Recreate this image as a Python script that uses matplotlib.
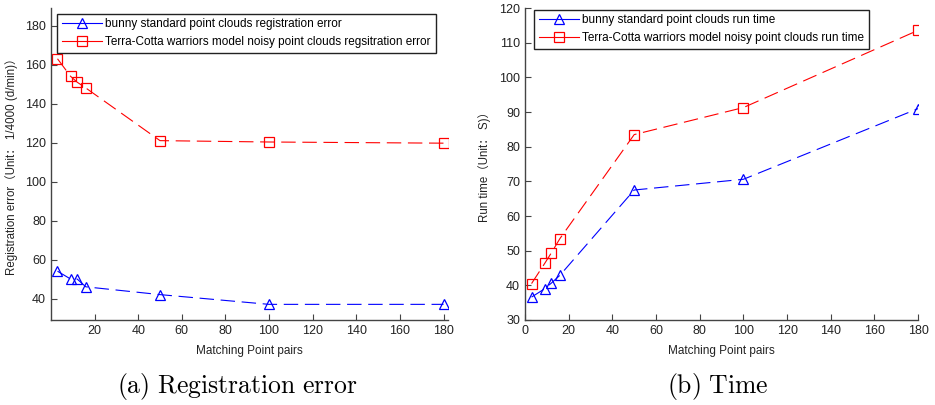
import matplotlib
matplotlib.use("Agg")
import matplotlib.pyplot as plt

plt.rcParams['font.family'] = ['Liberation Sans', 'Noto Sans CJK SC', 'DejaVu Sans']
plt.rcParams['mathtext.fontset'] = 'cm'

# Matching point pairs (x) shared by both panels
pairs = [3, 9, 12, 16, 50, 100, 180]

# Registration error (unit: 1/4000 d/min)
bunny_error = [54, 50, 50, 46, 42, 37, 37]
terra_error = [163, 154, 151, 148, 121, 120.3, 119.7]

# Run time (unit: s)
bunny_time = [36.6, 39.0, 40.6, 42.9, 67.5, 70.6, 91.0]
terra_time = [40.5, 46.3, 49.3, 53.5, 83.5, 91.3, 113.6]

left_labels = ["bunny standard point clouds registration error",
               "Terra-Cotta warriors model noisy point clouds regsitration error"]
right_labels = ["bunny standard point clouds run time",
                "Terra-Cotta warriors model noisy point clouds run time"]

dash = (0, (13, 6))
text_col = '#222222'


def style_axes(ax):
    ax.spines['top'].set_visible(False)
    ax.spines['right'].set_visible(False)
    for s in ('left', 'bottom'):
        ax.spines[s].set_color('#444444')
        ax.spines[s].set_linewidth(1.0)
    ax.tick_params(direction='in', length=4, width=0.8, colors='#444444',
                   labelcolor=text_col, labelsize=9)


def draw(ax, y1, y2, labels, anchor):
    ax.plot(pairs, y1, color='blue', linestyle=dash, linewidth=0.8,
            marker='^', markersize=6.5, markerfacecolor='none',
            markeredgecolor='blue', markeredgewidth=0.9, label=labels[0])
    ax.plot(pairs, y2, color='red', linestyle=dash, linewidth=0.8,
            marker='s', markersize=6.5, markerfacecolor='none',
            markeredgecolor='red', markeredgewidth=0.9, label=labels[1])
    leg = ax.legend(loc='upper left', bbox_to_anchor=anchor, fontsize=8.5,
                    handlelength=3.4, fancybox=False, framealpha=1,
                    borderpad=0.4, labelspacing=0.5, handletextpad=0.3,
                    borderaxespad=0)
    leg.get_frame().set_edgecolor('#222222')
    leg.get_frame().set_linewidth(1.0)
    for h in leg.get_lines():
        h.set_linestyle('-')
    ax.set_xlabel("Matching Point pairs", fontsize=8.5, color=text_col, labelpad=6)
    style_axes(ax)


fig = plt.figure(figsize=(9.35, 4.05), dpi=100)

ax1 = fig.add_axes([0.0545, 0.21, 0.4245, 0.77])
draw(ax1, bunny_error, terra_error, left_labels, (0.015, 0.982))
ax1.set_xlim(0, 182)
ax1.set_ylim(29, 189)
ax1.set_xticks(range(20, 181, 20))
ax1.set_yticks(range(40, 181, 20))
ax1.set_ylabel("Registration error（Unit： 1/4000 (d/min)）", fontsize=8.3,
               color=text_col, labelpad=5)

ax2 = fig.add_axes([0.5615, 0.21, 0.4205, 0.77])
draw(ax2, bunny_time, terra_time, right_labels, (0.023, 0.995))
ax2.set_xlim(0, 180)
ax2.set_ylim(30, 120)
ax2.set_xticks(range(0, 181, 20))
ax2.set_yticks(range(30, 121, 10))
ax2.set_ylabel("Run time（Unit： S)）", fontsize=8.3, color=text_col, labelpad=6)

fig.text(0.254, 0.045, r"$\mathrm{(a)\ Registration\ error}$", ha='center',
         va='center', fontsize=18.5)
fig.text(0.768, 0.045, r"$\mathrm{(b)\ Time}$", ha='center', va='center',
         fontsize=18.5)

fig.savefig("out.png", dpi=100)
